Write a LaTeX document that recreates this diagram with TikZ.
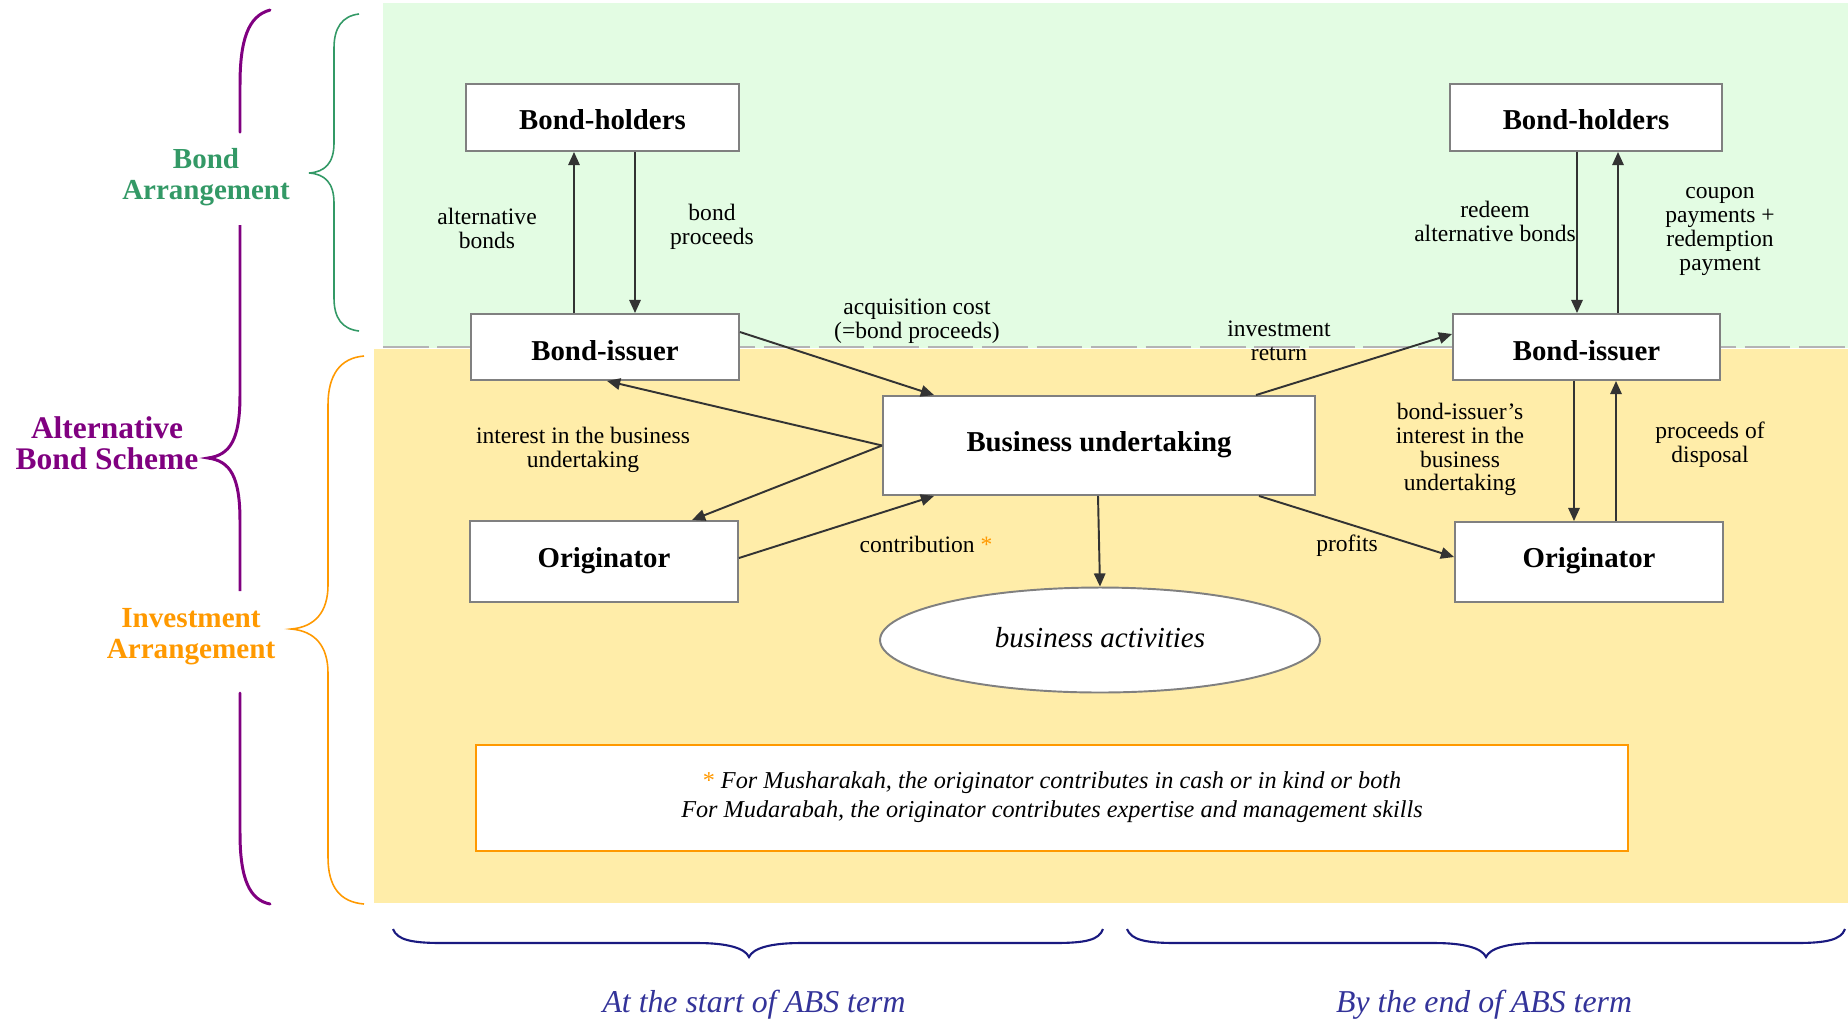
\documentclass[tikz,border=0pt]{standalone}
\usepackage{fontspec}
\setmainfont{Liberation Serif}
\usetikzlibrary{arrows.meta,shapes.geometric,calc}

\definecolor{bgGreen}{HTML}{E3FCE3}
\definecolor{bgYellow}{HTML}{FFEDA9}
\definecolor{boxLine}{HTML}{808080}
\definecolor{arrowInk}{HTML}{333333}
\definecolor{grnText}{HTML}{339966}
\definecolor{purpText}{HTML}{800080}
\definecolor{orgText}{HTML}{FF9900}
\definecolor{navyText}{HTML}{333399}
\definecolor{navyBrace}{HTML}{1A1A80}
\definecolor{dashGray}{HTML}{B4B4B4}

\newcommand\fsz[2]{\fontsize{#1}{#2}\selectfont}
% shift a label vertically without changing the box it occupies
\newcommand\lift[2]{\raisebox{#1}[\height][\depth]{#2}}

\begin{document}
\begin{tikzpicture}[x=0.02cm,y=-0.02cm,
  party/.style={draw=boxLine, line width=1.1pt, fill=white, inner sep=0pt,
                font=\fsz{16.4}{18}\bfseries},
  flow/.style={draw=arrowInk, line width=1.1pt, -{Triangle[length=7.5pt,width=6.5pt]}},
  flowlabel/.style={align=center, inner sep=0pt, font=\fsz{13.4}{13.6}},
  sidelabel/.style={align=center, inner sep=0pt},
  termlabel/.style={inner sep=0pt, text=navyText, font=\fsz{18.1}{20}\itshape},
  termbrace/.style={draw=navyBrace, line width=1.2pt},
]
\useasboundingbox (0,0) rectangle (1848,1019);

% shaded bands
\fill[bgGreen] (383,3) rectangle (1848,348);
\fill[bgYellow] (374,349) rectangle (1848,903);
\draw[dashGray, line width=1.2pt, dash pattern=on 26pt off 5pt] (383,347) -- (1848,347);

% braces on the left
\draw[purpText, line width=1.7pt, line cap=round]
  (270,10) .. controls (248,16) and (240,40) .. (240,85) -- (240,132);
\draw[purpText, line width=1.7pt]
  (240,225) -- (240,395) .. controls (240,440) and (230,455) .. (208,458)
  .. controls (230,461) and (240,476) .. (240,521) -- (240,591);
\draw[purpText, line width=1.7pt, line cap=round]
  (240,693) -- (240,833) .. controls (240,880) and (250,900) .. (270,904);

\draw[grnText, line width=0.9pt]
  (359,14) .. controls (342,16) and (334,28) .. (334,48) -- (334,143)
  .. controls (334,163) and (325,172) .. (309,173)
  .. controls (325,174) and (334,183) .. (334,203) -- (334,298)
  .. controls (334,318) and (342,329) .. (359,331);

\draw[orgText, line width=0.9pt]
  (364,356) .. controls (340,358) and (328,375) .. (328,405) -- (328,585)
  .. controls (328,612) and (315,627) .. (291,629)
  .. controls (315,631) and (328,646) .. (328,673) -- (328,857)
  .. controls (328,887) and (340,902) .. (364,904);

\node[sidelabel, text=grnText, font=\fsz{16.5}{18}\bfseries] (lblBond) at (206,177) {Bond\\Arrangement};
\node[sidelabel, text=purpText, font=\fsz{17.9}{17.6}\bfseries] (lblScheme) at (107,443) {Alternative\\Bond Scheme};
\node[sidelabel, text=orgText, font=\fsz{16.6}{17.6}\bfseries] (lblInvest) at (191,637) {Investment\\Arrangement};

% parties
\node[party, minimum width=5.46cm, minimum height=1.34cm] (BH1) at (602.5,117.5) {\lift{-1.3pt}{Bond-holders}};
\node[party, minimum width=5.36cm, minimum height=1.32cm] (BI1) at (605,347) {\lift{-2pt}{Bond-issuer}};
\node[party, minimum width=5.36cm, minimum height=1.62cm] (OR1) at (604,561.5) {\lift{0.6pt}{Originator}};
\node[party, minimum width=8.64cm, minimum height=1.98cm] (BU) at (1099,445.5) {\lift{0.6pt}{Business undertaking}};
\node[ellipse, draw=boxLine, line width=1.1pt, fill=white, inner sep=0pt,
      minimum width=8.8cm, minimum height=2.1cm, font=\fsz{16.5}{18}\itshape] (EL) at (1100,640) {\lift{1.2pt}{business activities}};
\node[party, minimum width=5.44cm, minimum height=1.34cm] (BH2) at (1586,117.5) {\lift{-1.3pt}{Bond-holders}};
\node[party, minimum width=5.34cm, minimum height=1.32cm] (BI2) at (1586.5,347) {\lift{-2pt}{Bond-issuer}};
\node[party, minimum width=5.36cm, minimum height=1.6cm] (OR2) at (1589,562) {\lift{0.6pt}{Originator}};

% footnote
\node[draw=orgText, line width=1.1pt, fill=white, minimum width=23.04cm, minimum height=2.12cm] (note) at (1052,798) {};
\node[align=center, inner sep=0pt, font=\fsz{13.8}{16.4}\itshape] (noteText) at (1052,797)
  {{\upshape\textcolor{orgText}{*}} For Musharakah, the originator contributes in cash or in kind or both\\
   For Mudarabah, the originator contributes expertise and management skills};

% flows at the start of the term
\draw[flow] (574,0 |- BI1.north) -- (574,0 |- BH1.south);
\draw[flow] (635,0 |- BH1.south) -- (635,0 |- BI1.north);
\draw[flow] (BI1.east |- 0,332) -- (934,0 |- BU.north);
\draw[flow] (BU.west) -- (607,0 |- BI1.south);
\draw[flow] (BU.west) -- (692,0 |- OR1.north);
\draw[flow] (OR1.east |- 0,558) -- (934,0 |- BU.south);
\draw[flow] (1098,0 |- BU.south) -- (EL.north);

% flows by the end of the term
\draw[flow] (1256,0 |- BU.north) -- (BI2.west |- 0,334);
\draw[flow] (1259,0 |- BU.south) -- (OR2.west |- 0,557);
\draw[flow] (1577,0 |- BH2.south) -- (1577,0 |- BI2.north);
\draw[flow] (1618,0 |- BI2.north) -- (1618,0 |- BH2.south);
\draw[flow] (1574,0 |- BI2.south) -- (1574,0 |- OR2.north);
\draw[flow] (1616,0 |- OR2.north) -- (1616,0 |- BI2.south);

% flow labels
\node[flowlabel] (tAlt) at (487,228) {alternative\\bonds};
\node[flowlabel] (tProc) at (712,227) {bond\\proceeds};
\node[flowlabel] (tAcq) at (917,321.5) {acquisition cost\\(=bond proceeds)};
\node[flowlabel] (tInt) at (583,449.5) {interest in the business\\undertaking};
\node[flowlabel] (tContrib) at (926,544) {contribution \textcolor{orgText}{*}};
\node[flowlabel] (tRet) at (1279,340.5) {investment\\return};
\node[flowlabel] (tRedeem) at (1495,221) {redeem\\alternative bonds};
\node[flowlabel] (tCoupon) at (1720,231.5) {coupon\\payments +\\redemption\\payment};
\node[flowlabel] (tBiInt) at (1460,449.5) {bond-issuer’s\\interest in the\\business\\undertaking};
\node[flowlabel] (tDisp) at (1710,445) {proceeds of\\disposal};
\node[flowlabel] (tProfits) at (1347,545.5) {profits};

% term braces
\draw[termbrace] (393,929) .. controls (397,940) and (412,943) .. (442,943) -- (697,943)
  .. controls (727,943) and (745,948) .. (749,957)
  .. controls (753,948) and (771,943) .. (801,943) -- (1054,943)
  .. controls (1086,943) and (1099,940) .. (1103,929);
\draw[termbrace] (1127,929) .. controls (1131,940) and (1146,943) .. (1176,943) -- (1434,943)
  .. controls (1464,943) and (1482,948) .. (1486,957)
  .. controls (1490,948) and (1508,943) .. (1538,943) -- (1796,943)
  .. controls (1826,943) and (1841,940) .. (1845,929);

\node[termlabel] (tStart) at (754,1004.5) {At the start of ABS term};
\node[termlabel] (tEnd) at (1484,1004.5) {By the end of ABS term};
\end{tikzpicture}
\end{document}
